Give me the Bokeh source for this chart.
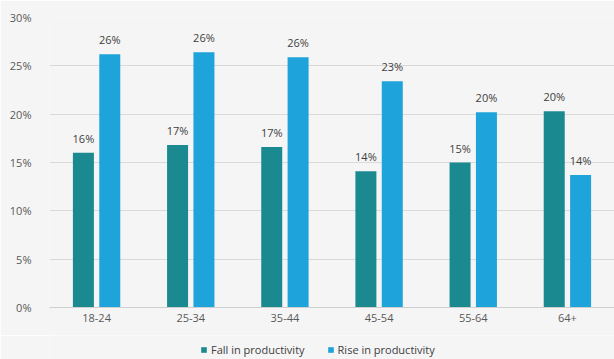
from bokeh.plotting import figure
from bokeh.layouts import column
from bokeh.models import (ColumnDataSource, FactorRange, Legend, LegendItem,
                          PrintfTickFormatter, SingleIntervalTicker, Range1d)
from bokeh.transform import dodge
from bokeh.core.properties import value
from bokeh.embed import file_html
from bokeh.resources import INLINE

# Share of respondents reporting a change in productivity, by age group (%)
age_groups = ["18-24", "25-34", "35-44", "45-54", "55-64", "64+"]
fall_in_productivity = [16.0, 16.8, 16.6, 14.1, 15.0, 20.3]
rise_in_productivity = [26.2, 26.4, 25.9, 23.4, 20.2, 13.7]
series_names = ["Fall in productivity", "Rise in productivity"]

FALL_COLOR = "#1b8a90"
RISE_COLOR = "#1ea3da"
BG = "#f5f5f5"
FONT = "Open Sans"

source = ColumnDataSource(dict(
    age=age_groups,
    fall=fall_in_productivity,
    rise=rise_in_productivity,
    fall_label=[f"{round(v)}%" for v in fall_in_productivity],
    rise_label=[f"{round(v)}%" for v in rise_in_productivity],
))

p = figure(
    x_range=FactorRange(*age_groups),
    y_range=(0, 30),
    width=614, height=335,
    output_backend="svg",
    toolbar_location=None,
    min_border_left=49, min_border_right=0,
    min_border_top=17, min_border_bottom=28,
    background_fill_color=BG, border_fill_color=BG,
    outline_line_color=None,
)

bar_w = 0.223
p.vbar(x=dodge("age", -0.14, range=p.x_range), top="fall", width=bar_w,
       source=source, fill_color=FALL_COLOR, line_color=None)
p.vbar(x=dodge("age", 0.14, range=p.x_range), top="rise", width=bar_w,
       source=source, fill_color=RISE_COLOR, line_color=None)

# value labels above each bar
p.text(x=dodge("age", -0.14, range=p.x_range), y="fall", text="fall_label", source=source,
       text_align="center", text_baseline="bottom", y_offset=-7,
       text_font=value(FONT), text_font_size="11px", text_color="#404040")
p.text(x=dodge("age", 0.14, range=p.x_range), y="rise", text="rise_label", source=source,
       text_align="center", text_baseline="bottom", y_offset=-7,
       text_font=value(FONT), text_font_size="11px", text_color="#404040")

# axes
p.yaxis.ticker = SingleIntervalTicker(interval=5)
p.yaxis.formatter = PrintfTickFormatter(format="%d%%")
p.yaxis.axis_line_color = None
p.yaxis.major_tick_line_color = None
p.yaxis.minor_tick_line_color = None
p.yaxis.major_label_standoff = 12
p.xaxis.axis_line_color = "#cfcfcf"
p.xaxis.major_tick_line_color = None
p.xaxis.major_tick_out = 0
p.xaxis.major_label_standoff = 6
for ax in (p.xaxis, p.yaxis):
    ax.major_label_text_font = FONT
    ax.major_label_text_font_size = "11px"
    ax.major_label_text_color = "#595959"

p.xgrid.grid_line_color = None
p.ygrid.grid_line_color = "#d9d9d9"

# strip beneath the chart holding the horizontal legend
lg = figure(
    width=614, height=24,
    x_range=Range1d(0, 1), y_range=Range1d(0, 1),
    output_backend="svg", toolbar_location=None,
    min_border=0, outline_line_color=None,
    background_fill_color=BG, border_fill_color=BG,
)
lg.axis.visible = False
lg.grid.visible = False
# swatch renderers sit outside the strip's visible range; only their legend entries show
swatch_src = ColumnDataSource(dict(x=[5.0], top=[5.0]))
r_fall = lg.vbar(x="x", top="top", bottom=4.0, width=0.1, source=swatch_src,
                 fill_color=FALL_COLOR, line_color=None)
r_rise = lg.vbar(x="x", top="top", bottom=4.0, width=0.1, source=swatch_src,
                 fill_color=RISE_COLOR, line_color=None)

legend = Legend(
    items=[LegendItem(label=series_names[0], renderers=[r_fall]),
           LegendItem(label=series_names[1], renderers=[r_rise])],
    orientation="horizontal", location=(151, 2),
    glyph_width=7, glyph_height=7, label_standoff=4, spacing=22,
    label_height=12, label_text_baseline="middle",
    label_text_font=FONT, label_text_font_size="11px", label_text_color="#404040",
    background_fill_alpha=0, border_line_color=None,
    padding=2, margin=0,
)
lg.add_layout(legend, "center")

layout = column(p, lg, spacing=0)
open("out.html", "w").write(file_html(layout, INLINE))
